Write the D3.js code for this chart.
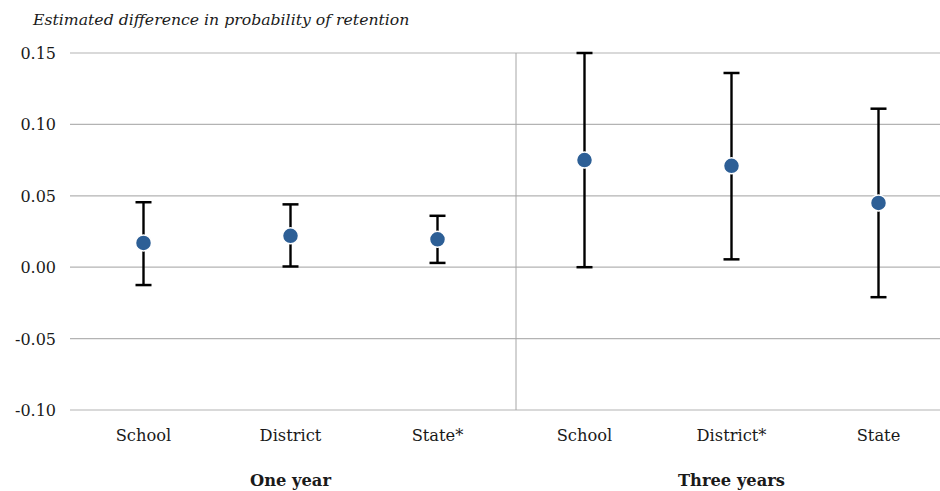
<!DOCTYPE html>
<html>
<head>
<meta charset="utf-8">
<script src="https://cdn.jsdelivr.net/npm/d3@7"></script>
<style>
  body { margin: 0; background: #fff; overflow: hidden; }
  svg { display: block; }
  text { font-family: "DejaVu Serif", "Liberation Serif", serif; fill: #1a1a1a; }
  .title { font-style: italic; font-size: 15.7px; }
  .tick-label { font-size: 16px; }
  .cat-label { font-size: 16.3px; }
  .group-label { font-size: 16.3px; font-weight: bold; }
</style>
</head>
<body>
<div id="svg"></div>
<script>
const categories = ['School', 'District', 'State*', 'School', 'District*', 'State'];
const groups = ['One year', 'One year', 'One year', 'Three years', 'Three years', 'Three years'];
const estimates = [0.017, 0.022, 0.0195, 0.075, 0.071, 0.045];
const lowers = [-0.0125, 0.0005, 0.003, 0.0, 0.0055, -0.021];
const uppers = [0.0455, 0.044, 0.036, 0.150, 0.136, 0.111];
const yTicks = [-0.10, -0.05, 0.00, 0.05, 0.10, 0.15];
const groupNames = ['One year', 'Three years'];

function makeGraph() {
    let w = 940, h = 491;
    let svg = d3.select('#svg')
        .append('svg')
        .attr('width', w)
        .attr('height', h);

    let ids = categories.map((c, i) => i);

    let xScale = d3.scaleBand()
        .domain(ids)
        .range([70, 952]);

    let yScale = d3.scaleLinear()
        .domain([-0.10, 0.15])
        .range([410, 53]);

    // gridlines
    svg.selectAll('.grid')
        .data(yTicks)
        .enter()
        .append('line')
        .attr('x1', 70)
        .attr('x2', w)
        .attr('y1', d => yScale(d))
        .attr('y2', d => yScale(d))
        .style('stroke', '#b3b3b3')
        .style('stroke-width', 1.2);

    svg.selectAll('.tick-label')
        .data(yTicks)
        .enter()
        .append('text')
        .classed('tick-label', true)
        .attr('x', 56)
        .attr('y', d => yScale(d) + 6)
        .attr('text-anchor', 'end')
        .text(d => d3.format('.2f')(d).replace('−', '-'));

    // divider between groups
    let divX = xScale(3) + 5;
    svg.append('line')
        .attr('x1', divX)
        .attr('x2', divX)
        .attr('y1', yScale(0.15))
        .attr('y2', yScale(-0.10))
        .style('stroke', '#a6a6a6')
        .style('stroke-width', 1);

    let cx = i => xScale(i) + xScale.bandwidth() / 2;

    let marks = svg.selectAll('.mark')
        .data(ids)
        .enter()
        .append('g');

    marks.append('line')
        .attr('x1', cx).attr('x2', cx)
        .attr('y1', i => yScale(lowers[i]))
        .attr('y2', i => yScale(uppers[i]))
        .style('stroke', '#000')
        .style('stroke-width', 2.4);

    marks.append('line')
        .attr('x1', i => cx(i) - 8).attr('x2', i => cx(i) + 8)
        .attr('y1', i => yScale(uppers[i]))
        .attr('y2', i => yScale(uppers[i]))
        .style('stroke', '#000')
        .style('stroke-width', 2.5);

    marks.append('line')
        .attr('x1', i => cx(i) - 8).attr('x2', i => cx(i) + 8)
        .attr('y1', i => yScale(lowers[i]))
        .attr('y2', i => yScale(lowers[i]))
        .style('stroke', '#000')
        .style('stroke-width', 2.5);

    marks.append('circle')
        .attr('cx', cx)
        .attr('cy', i => yScale(estimates[i]))
        .attr('r', 8)
        .style('fill', '#2d5f96')
        .style('stroke', '#fff')
        .style('stroke-width', 1.5);

    svg.selectAll('.cat-label')
        .data(ids)
        .enter()
        .append('text')
        .classed('cat-label', true)
        .attr('x', cx)
        .attr('y', 441)
        .attr('text-anchor', 'middle')
        .text(i => categories[i]);

    svg.selectAll('.group-label')
        .data(groupNames)
        .enter()
        .append('text')
        .classed('group-label', true)
        .attr('x', g => {
            let idx = ids.filter(i => groups[i] === g);
            return d3.mean(idx, cx);
        })
        .attr('y', 486)
        .attr('text-anchor', 'middle')
        .text(g => g);

    svg.append('text')
        .classed('title', true)
        .attr('x', 33)
        .attr('y', 25)
        .text('Estimated difference in probability of retention');
}

window.onload = () => {
    makeGraph();
}
</script>
</body>
</html>
